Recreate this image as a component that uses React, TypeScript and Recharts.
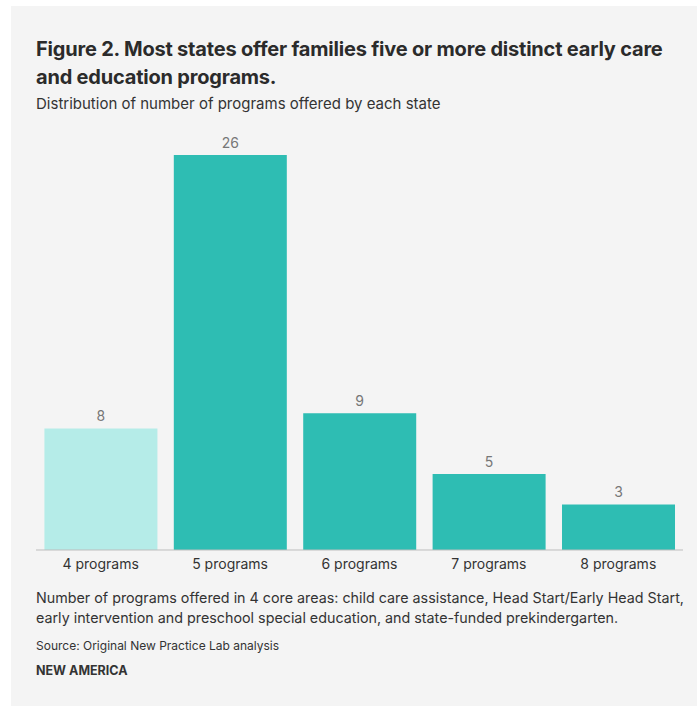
import React from 'react';
import { BarChart, Bar, XAxis, YAxis, Cell, LabelList } from 'recharts';

const categories = ['4 programs', '5 programs', '6 programs', '7 programs', '8 programs'];
const stateCounts = [8, 26, 9, 5, 3];
const highlight = [false, true, true, true, true];

const data = categories.map((name, i) => ({ name, value: stateCounts[i], dark: highlight[i] }));

const FONT = 'Inter, "Noto Sans", sans-serif';

const App: React.FC = () => {
    return (
        <div style={{ position: 'fixed', left: 0, top: 0, width: 697, height: 706, background: '#fff', fontFamily: FONT }}>
            <div style={{ position: 'absolute', left: 11, top: 6, right: 0, bottom: 0, background: '#f4f4f4' }} />
            <div style={{ position: 'absolute', left: 36, top: 35, width: 640, fontSize: 20, fontWeight: 700, lineHeight: '28px', color: '#2b2b2b', letterSpacing: -0.2 }}>
                Figure 2. Most states offer families five or more distinct early care and education programs.
            </div>
            <div style={{ position: 'absolute', left: 36, top: 94, fontSize: 15, color: '#333' }}>
                Distribution of number of programs offered by each state
            </div>
            <div style={{ position: 'absolute', left: 0, top: 120 }}>
                <BarChart width={697} height={480} data={data} margin={{ top: 35, right: 14, bottom: 0, left: 36 }} barCategoryGap="6.5%">
                    <XAxis
                        dataKey="name"
                        height={50}
                        tickLine={false}
                        axisLine={{ stroke: '#bdbdbd' }}
                        tick={{ fill: '#333', fontSize: 14, fontFamily: FONT }}
                        tickMargin={3}
                    />
                    <YAxis hide domain={[0, 26]} />
                    <Bar dataKey="value" isAnimationActive={false}>
                        {data.map((d, i) => (
                            <Cell key={`cell-${i}`} fill={d.dark ? '#2ebdb3' : '#b5ece8'} />
                        ))}
                        <LabelList dataKey="value" position="top" offset={7} fill="#777" fontSize={14} fontFamily={FONT} />
                    </Bar>
                </BarChart>
            </div>
            <div style={{ position: 'absolute', left: 36, top: 588, width: 655, fontSize: 14.3, lineHeight: '20px', color: '#333' }}>
                Number of programs offered in 4 core areas: child care assistance, Head Start/Early Head Start, early intervention and preschool special education, and state-funded prekindergarten.
            </div>
            <div style={{ position: 'absolute', left: 36, top: 638, fontSize: 12, color: '#333' }}>
                Source: Original New Practice Lab analysis
            </div>
            <div style={{ position: 'absolute', left: 36, top: 663, fontSize: 12.5, fontWeight: 700, color: '#333' }}>
                NEW AMERICA
            </div>
        </div>
    );
};

export default App;
